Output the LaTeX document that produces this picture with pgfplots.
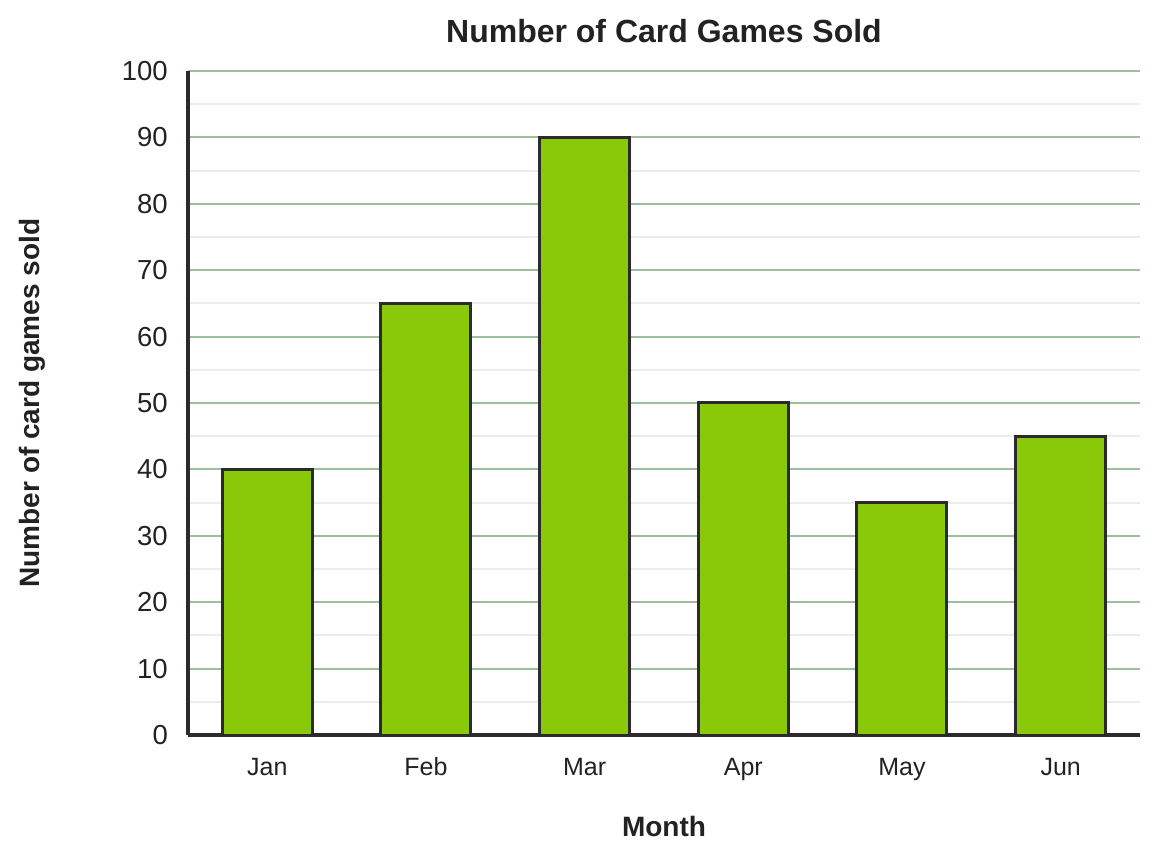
\documentclass[border=0pt]{standalone}
\usepackage{pgfplots}
\pgfplotsset{compat=1.18}
\usepackage{fontspec}
\setmainfont{Liberation Sans}
\definecolor{barfill}{HTML}{8AC80A}
\definecolor{bardraw}{HTML}{2B2B2B}
\definecolor{majgrid}{HTML}{9CBF9C}
\definecolor{mingrid}{HTML}{E8EEE8}
\definecolor{txt}{HTML}{222222}
\begin{document}
\begin{tikzpicture}
\useasboundingbox (-188pt,-120pt) rectangle (972pt,735pt);
\begin{axis}[
  at={(0pt,0pt)}, anchor=south west,
  scale only axis, width=952pt, height=664pt,
  xmin=-0.5, xmax=5.5, ymin=0, ymax=100,
  axis lines=left, axis line style={-, line width=4pt, color=bardraw},
  xtick=data, xticklabels={Jan,Feb,Mar,Apr,May,Jun},
  ytick={0,10,...,100}, minor y tick num=1,
  major tick length=0pt, minor tick length=0pt,
  ymajorgrids, yminorgrids,
  major grid style={line width=2pt, color=majgrid},
  minor grid style={line width=2pt, color=mingrid},
  /pgf/number format/assume math mode=true,
  xticklabel style={anchor=base, inner sep=0pt, yshift=-40pt, font=\fontsize{25}{30}\selectfont, text=txt},
  yticklabel style={anchor=east, inner sep=0pt, xshift=-20pt, font=\fontsize{27.5}{32}\selectfont, text=txt},
  axis on top=false,
  clip=false,
]
\addplot[ybar, bar width=90pt, fill=barfill, draw=bardraw, line width=3pt]
  coordinates {(0,40) (1,65) (2,90) (3,50) (4,35) (5,45)};
\end{axis}
\node[anchor=base, inner sep=0pt, text=txt, font=\bfseries\fontsize{32}{38}\selectfont] at (476pt,692pt) {Number of Card Games Sold};
\node[anchor=base, inner sep=0pt, text=txt, font=\bfseries\fontsize{28}{34}\selectfont] at (476pt,-101pt) {Month};
\node[rotate=90, anchor=center, inner sep=0pt, text=txt, font=\bfseries\fontsize{28}{34}\selectfont] at (-156pt,332pt) {Number of card games sold};
\end{tikzpicture}
\end{document}
